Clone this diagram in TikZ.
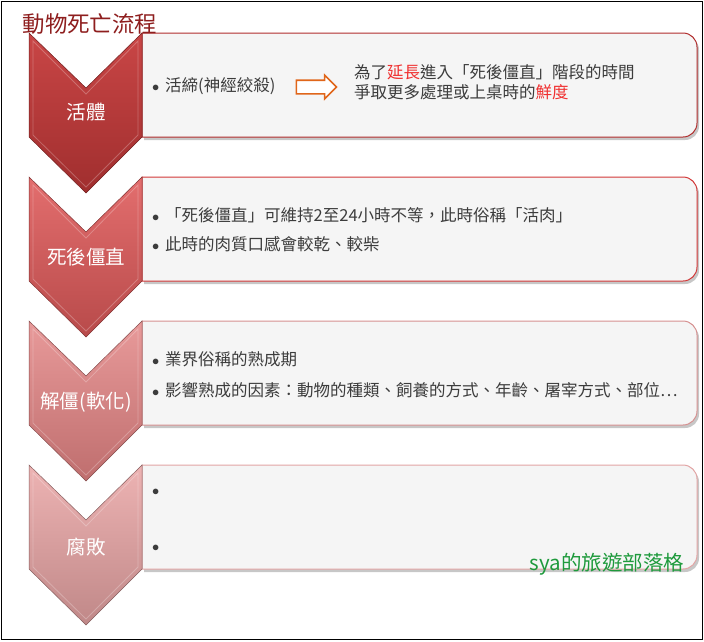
\documentclass[tikz,border=0pt]{standalone}
\usepackage{fontspec}
\setmainfont{Noto Sans CJK TC}
\usetikzlibrary{shapes.arrows}

\definecolor{txtgray}{HTML}{3C3C3C}
\definecolor{boxfill}{HTML}{F5F5F5}
\definecolor{titlered}{HTML}{8E1E1E}
\definecolor{hotred}{HTML}{F03030}
\definecolor{arroworange}{HTML}{E0661A}
\definecolor{wmgreen}{HTML}{1E9A3C}
% stage colours
\definecolor{topA}{HTML}{C94646}\definecolor{botA}{HTML}{A02E2E}\definecolor{lineA}{HTML}{B02C2C}
\definecolor{topB}{HTML}{E36E6E}\definecolor{botB}{HTML}{B84A4A}\definecolor{lineB}{HTML}{D23838}
\definecolor{topC}{HTML}{E89A9A}\definecolor{botC}{HTML}{BF6E6E}\definecolor{lineC}{HTML}{D69090}
\definecolor{topD}{HTML}{EDB3B3}\definecolor{botD}{HTML}{C08888}\definecolor{lineD}{HTML}{E2A4A4}

\tikzset{
  txt/.style={text=txtgray, inner sep=0pt, font=\fontsize{16.5}{20}\selectfont},
  stagelabel/.style={text=white, inner sep=0pt, font=\fontsize{19.5}{22}\selectfont},
}

\newcommand{\bul}{\makebox[13pt][l]{\fontsize{15}{15}\selectfont$\bullet$}}

% #1 top y, #2 border colour
\newcommand{\stagebox}[2]{%
  \fill[black, opacity=0.22, shift={(2,-3)}] (142,-#1) -- (683,-#1) arc[start angle=90, end angle=0, radius=14]
    -- (697,-#1-90) arc[start angle=0, end angle=-90, radius=14] -- (142,-#1-104) -- cycle;
  \draw[#2, fill=boxfill, line width=1pt] (142,-#1) -- (683,-#1) arc[start angle=90, end angle=0, radius=14]
    -- (697,-#1-90) arc[start angle=0, end angle=-90, radius=14] -- (142,-#1-104) -- cycle;}

% #1 top y, #2 top colour, #3 bottom colour
\newcommand{\chevronshape}[3]{%
  \shade[top color=#2, bottom color=#3] (29,-#1) -- (86,-#1-55) -- (142,-#1) -- (142,-#1-104)
    -- (86,-#1-160) -- (29,-#1-104) -- cycle;
  \draw[white, opacity=0.25, line width=0.8pt] (33,-#1-8) -- (86,-#1-61) -- (138,-#1-8) -- (138,-#1-102)
    -- (86,-#1-154) -- (33,-#1-102) -- cycle;
  \draw[#3!70!black, line width=0.5pt] (29,-#1) -- (86,-#1-55) -- (142,-#1) -- (142,-#1-104)
    -- (86,-#1-160) -- (29,-#1-104) -- cycle;}

\begin{document}
\begin{tikzpicture}[x=1pt,y=1pt]
\useasboundingbox (0,0) rectangle (704,-641);
\draw[black, line width=1.2pt] (1.5,-1.5) rectangle (702.5,-639.5);

\stagebox{33}{lineA}
\stagebox{177}{lineB}
\stagebox{321}{lineC}
\stagebox{465}{lineD}

\chevronshape{33}{topA}{botA}
\chevronshape{177}{topB}{botB}
\chevronshape{321}{topC}{botC}
\chevronshape{465}{topD}{botD}

\node[text=titlered, inner sep=0pt, font=\fontsize{22.5}{24}\selectfont](title) at (90,-24){動物死亡流程};

\node[stagelabel](live) at (86,-112){活體};
\node[stagelabel](rigor) at (86,-257){死後僵直};
\node[stagelabel](soft) at (86,-402){解僵(軟化)};
\node[stagelabel](rot) at (86,-547){腐敗};

% stage 1
\node[txt, anchor=west](ikejime) at (152,-86){\bul 活締(神經絞殺)};
\node[single arrow, draw=arroworange, fill=white, line width=1.6pt, minimum height=40pt,
      inner xsep=0pt, inner ysep=6pt, single arrow head extend=5pt](arr) at (313,-87){};
\node[txt, anchor=west, align=left](why) at (354,-82){為了\textcolor{hotred}{延長}進入「死後僵直」階段的時間\\
  爭取更多處理或上桌時的\textcolor{hotred}{鮮度}};

% stage 2
\node[txt, anchor=west](rigorA) at (152,-215){\bul 「死後僵直」可維持2至24小時不等，此時俗稱「活肉」};
\node[txt, anchor=west](rigorB) at (152,-244){\bul 此時的肉質口感會較乾、較柴};

% stage 3
\node[txt, anchor=west](softA) at (152,-359){\bul 業界俗稱的熟成期};
\node[txt, anchor=west](softB) at (152,-390){\bul 影響熟成的因素：動物的種類、飼養的方式、年齡、屠宰方式、部位…};

% stage 4
\node[txt, anchor=west](rotA) at (152,-492){\bul};
\node[txt, anchor=west](rotB) at (152,-548){\bul};

\node[text=wmgreen, inner sep=0pt, font=\fontsize{20.5}{22}\selectfont](blog) at (607,-564){sya的旅遊部落格};
\end{tikzpicture}
\end{document}
